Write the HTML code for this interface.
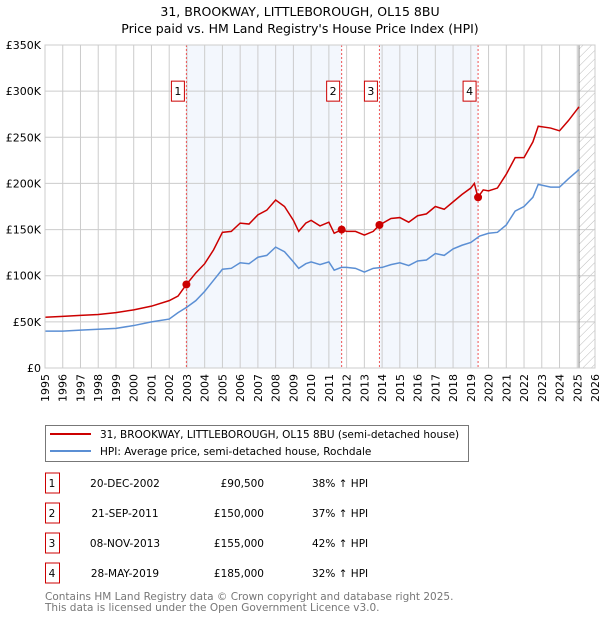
<!DOCTYPE html>
<html><head><meta charset="utf-8"><style>
body{margin:0;background:#fff;font-family:"Liberation Sans","DejaVu Sans",sans-serif;}
svg text{font-family:"DejaVu Sans","Liberation Sans",sans-serif;}
</style></head><body>
<svg id="c" width="600" height="620" xmlns="http://www.w3.org/2000/svg">
<text x="300" y="16" text-anchor="middle" font-size="12.5">31, BROOKWAY, LITTLEBOROUGH, OL15 8BU</text>
<text x="300" y="33" text-anchor="middle" font-size="12.5">Price paid vs. HM Land Registry's House Price Index (HPI)</text>
<g id="plot"></g>
<g>
<rect x="45.5" y="425.5" width="423" height="36" fill="#fff" stroke="#777"/>
<line x1="50" y1="434" x2="91" y2="434" stroke="#cc0000" stroke-width="2"/>
<text x="100" y="438" font-size="10.5">31, BROOKWAY, LITTLEBOROUGH, OL15 8BU (semi-detached house)</text>
<line x1="50" y1="451" x2="91" y2="451" stroke="#5b8fd4" stroke-width="2"/>
<text x="100" y="455" font-size="10.5">HPI: Average price, semi-detached house, Rochdale</text>
</g>
<g id="table" font-size="10.5"></g>
<text x="45" y="600" font-size="10.5" fill="#777">Contains HM Land Registry data © Crown copyright and database right 2025.</text>
<text x="45" y="611" font-size="10.5" fill="#777">This data is licensed under the Open Government Licence v3.0.</text>
</svg>
<script>
const years=[1995,1996,1997,1998,1999,2000,2001,2002,2003,2004,2005,2006,2007,2008,2009,2010,2011,2012,2013,2014,2015,2016,2017,2018,2019,2020,2021,2022,2023,2024,2025,2026];
const yTicks=[0,50,100,150,200,250,300,350];
const yTickLabels=["£0","£50K","£100K","£150K","£200K","£250K","£300K","£350K"];
const redT=[1995,1996,1997,1998,1999,2000,2001,2002,2002.5,2002.97,2003.5,2004,2004.5,2005,2005.5,2006,2006.5,2007,2007.5,2008,2008.5,2009,2009.3,2009.7,2010,2010.5,2011,2011.3,2011.72,2012,2012.5,2013,2013.5,2013.85,2014.5,2015,2015.5,2016,2016.5,2017,2017.5,2018,2018.5,2019,2019.2,2019.4,2019.7,2020,2020.5,2021,2021.5,2022,2022.5,2022.8,2023.5,2024,2024.5,2025.1];
const redV=[55,56,57,58,60,63,67,73,78,90.5,103,113,128,147,148,157,156,166,171,182,175,160,148,157,160,154,158,146,150,148,148,144,148,155,162,163,158,165,167,175,172,180,188,195,200,185,193,192,195,210,228,228,245,262,260,257,268,283];
const blueT=[1995,1996,1997,1998,1999,2000,2001,2002,2002.5,2003,2003.5,2004,2004.5,2005,2005.5,2006,2006.5,2007,2007.5,2008,2008.5,2009,2009.3,2009.7,2010,2010.5,2011,2011.3,2011.7,2012,2012.5,2013,2013.5,2014,2014.5,2015,2015.5,2016,2016.5,2017,2017.5,2018,2018.5,2019,2019.5,2020,2020.5,2021,2021.5,2022,2022.5,2022.8,2023.5,2024,2024.5,2025.1];
const blueV=[40,40,41,42,43,46,50,53,60,66,73,83,95,107,108,114,113,120,122,131,126,115,108,113,115,112,115,106,109,109,108,104,108,109,112,114,111,116,117,124,122,129,133,136,143,146,147,155,170,175,185,199,196,196,205,215];
const saleLabels=["1","2","3","4"];
const saleT=[2002.97,2011.72,2013.85,2019.41];
const saleV=[90.5,150,155,185];
const saleDates=["20-DEC-2002","21-SEP-2011","08-NOV-2013","28-MAY-2019"];
const salePrices=["£90,500","£150,000","£155,000","£185,000"];
const saleHpi=["38% ↑ HPI","37% ↑ HPI","42% ↑ HPI","32% ↑ HPI"];
const NS="http://www.w3.org/2000/svg";
const X0=45,X1=595,Y0=368,Y1=45;
const x=t=>X0+(t-1995)/(2026-1995)*(X1-X0);
const y=v=>Y0-v/350*(Y0-Y1);
function mk(tag,at,parent){const e=document.createElementNS(NS,tag);for(const k in at)e.setAttribute(k,at[k]);parent.appendChild(e);return e;}
const g=document.getElementById('plot');
for(const [a,b] of [[0,1],[2,3]]){
 const r=mk('rect',{x:x(saleT[a]),y:Y1,width:x(saleT[b])-x(saleT[a]),height:Y0-Y1,fill:'#f3f7fd'},g);
 
 
}
const defs=mk('defs',{},g);
const pat=mk('pattern',{id:'h',width:6,height:6,patternUnits:'userSpaceOnUse',patternTransform:'rotate(45)'},defs);
mk('line',{x1:0,y1:0,x2:0,y2:6,stroke:'#bbb','stroke-width':1},pat);
const hr=mk('rect',{x:x(2025.1),y:Y1,width:X1-x(2025.1),height:Y0-Y1,fill:'url(#h)'},g);


years.forEach(t=>{
 const l=mk('line',{x1:x(t),y1:Y1,x2:x(t),y2:Y0,stroke:'#ccc','stroke-width':1},g);
 
 
 const tx=mk('text',{transform:`translate(${x(t)+4},${Y0+6}) rotate(-90)`,'text-anchor':'end','font-size':'11'},g);
 tx.textContent=t;
 
 
});
yTicks.forEach((v,i)=>{
 const l=mk('line',{x1:X0,y1:y(v),x2:X1,y2:y(v),stroke:'#ccc','stroke-width':1},g);
 
 
 const tx=mk('text',{x:X0-4,y:y(v)+4,'text-anchor':'end','font-size':'11'},g);
 tx.textContent=yTickLabels[i];
 
 
});
const vl=mk('line',{x1:x(2025.1),y1:Y1,x2:x(2025.1),y2:Y0,stroke:'#888','stroke-width':1},g);


saleT.forEach(t=>{
 const l=mk('line',{x1:x(t),y1:Y1,x2:x(t),y2:Y0,stroke:'#e55','stroke-width':1,'stroke-dasharray':'2,2'},g);
 
 
});
const bp=mk('polyline',{points:blueT.map((t,i)=>x(t)+','+y(blueV[i])).join(' '),fill:'none',stroke:'#5b8fd4','stroke-width':1.5},g);


const rp=mk('polyline',{points:redT.map((t,i)=>x(t)+','+y(redV[i])).join(' '),fill:'none',stroke:'#cc0000','stroke-width':1.5},g);


saleT.forEach((t,i)=>{
 const c=mk('circle',{cx:x(t),cy:y(saleV[i]),r:4,fill:'#cc0000'},g);
 
 
 const r=mk('rect',{x:x(t)-15,y:y(300)-10,width:13,height:20,fill:'#fff',stroke:'#cc0000'},g);
 
 
 const tx=mk('text',{x:x(t)-8.5,y:y(300)+4,'text-anchor':'middle','font-size':'11'},g);
 tx.textContent=saleLabels[i];
 
 
});
mk('rect',{x:X0,y:Y1,width:X1-X0,height:Y0-Y1,fill:'none',stroke:'#ccc'},g);
const tb=document.getElementById('table');
saleLabels.forEach((s,i)=>{
 const cy=483+i*30;
 const r=mk('rect',{x:45.5,y:cy-10,width:14,height:20,fill:'#fff',stroke:'#cc0000'},tb);
 
 
 const vals=[[s,52,'middle'],[saleDates[i],125,'middle'],[salePrices[i],264,'end'],[saleHpi[i],312,'start']];
 vals.forEach(([txt,xx,an])=>{
  const tx=mk('text',{x:xx,y:cy+4,'text-anchor':an},tb);
  tx.textContent=txt;
  
  
 });
});
</script>
</body></html>
